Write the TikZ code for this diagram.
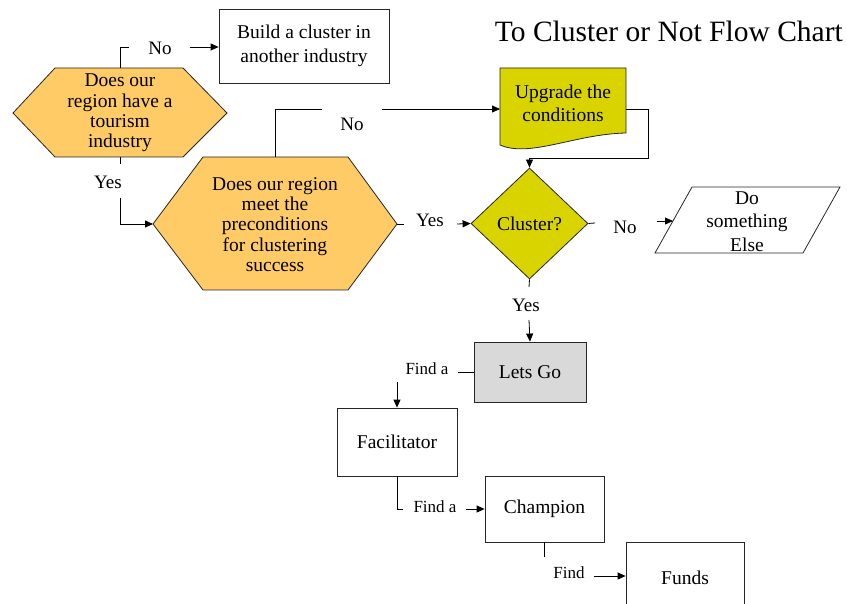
\documentclass[tikz,border=0pt]{standalone}
\usepackage{fontspec}
\setmainfont{Liberation Serif}
\usetikzlibrary{shapes.geometric,arrows.meta}
\definecolor{hexfill}{HTML}{FECB66}
\definecolor{olive}{HTML}{D9D400}
\definecolor{greyfill}{HTML}{D9D9D9}
\tikzset{
  ln/.style={line width=0.8pt, draw=black},
  arr/.style={ln, -{Triangle[length=8pt,width=7pt]}},
  shp/.style={line width=0.8pt, draw=black!85},
  boxnode/.style={shp, rectangle, inner sep=0pt, align=center, font=\fontsize{19.5}{24}\selectfont},
  txt/.style={inner sep=0pt, align=center, font=\fontsize{19.5}{20.3}\selectfont},
  lbl/.style={inner sep=0pt, font=\fontsize{19}{20}\selectfont},
  slbl/.style={inner sep=0pt, font=\fontsize{17}{18}\selectfont},
}
\begin{document}
\begin{tikzpicture}[x=1pt,y=-1pt]
\useasboundingbox (0,0) rectangle (847,604);
\clip (0,0) rectangle (847,604);

% title
\node[anchor=base east, inner sep=0pt, font=\fontsize{29.5}{30}\selectfont] (title) at (843,42) {To Cluster or Not Flow Chart};

% hexagon 1
\path[shp, fill=hexfill] (13,113) -- (55,68) -- (183,68) -- (227,113) -- (183,157) -- (55,157) -- cycle;
\node[txt] (h1) at (120,113) {Does our\\region have a\\tourism\\industry};
\coordinate (h1top) at (120,68);
\coordinate (h1bot) at (120,157);

% hexagon 2
\path[shp, fill=hexfill] (153,224) -- (203,157) -- (348,157) -- (397,224) -- (348,290) -- (203,290) -- cycle;
\node[txt] (h2) at (275,224.5) {Does our region\\meet the\\preconditions\\for clustering\\success};
\coordinate (h2left) at (153,224);
\coordinate (h2top) at (275,157);
\coordinate (h2right) at (397,224);

% build box
\node[boxnode, minimum width=170pt, minimum height=74pt] (build) at (304,46) {Build a cluster in\\another industry};

% upgrade (document shape)
\path[shp, fill=olive] (500,68) -- (626,68) -- (626,133) .. controls (575,134) and (530,158) .. (500,145) -- cycle;
\node[txt, font=\fontsize{19.5}{23}\selectfont] (up) at (563,103.5) {Upgrade the\\conditions};
\coordinate (upleft) at (500,109);
\coordinate (upright) at (626,109);

% diamond
\node[shp, diamond, fill=olive, minimum width=117pt, minimum height=111pt, inner sep=0pt, font=\fontsize{19.5}{20}\selectfont] (cl) at (529.5,223.5) {Cluster?};

% parallelogram
\path[shp] (692,187) -- (840,187) -- (803,253) -- (655,253) -- cycle;
\node[txt, font=\fontsize{19.5}{23.5}\selectfont] (else) at (747,221.5) {Do\\something\\Else};
\coordinate (elseleft) at (673,221);

% boxes
\node[boxnode, fill=greyfill, minimum width=112pt, minimum height=60pt] (go) at (530,372) {Lets Go};
\node[boxnode, minimum width=120pt, minimum height=68pt] (fac) at (397,442) {Facilitator};
\node[boxnode, minimum width=119pt, minimum height=66pt] (champ) at (544.5,509) {Champion};
\node[boxnode, minimum width=118pt, minimum height=72pt] (funds) at (685,578) {Funds};

% labels
\node[lbl] (no1) at (160,48) {No};
\node[lbl] (yes1) at (108,182) {Yes};
\node[lbl] (no2) at (352,124) {No};
\node[lbl] (yes2) at (430,220) {Yes};
\node[lbl] (no3) at (625,227) {No};
\node[lbl] (yes3) at (526,305) {Yes};
\node[slbl] (find1) at (427,369) {Find a};
\node[slbl] (find2) at (435,507) {Find a};
\node[slbl] (find3) at (569,573) {Find};

% connector break points
\coordinate (a1) at (129,47);
\coordinate (a2) at (190,47);
\coordinate (b1) at (120,164);
\coordinate (b2) at (120,198);
\coordinate (c1) at (322,109);
\coordinate (c2) at (382,109);
\coordinate (d1) at (648,158);
\coordinate (e1) at (404,224);
\coordinate (e2) at (457,224);
\coordinate (f1) at (595,223);
\coordinate (f2) at (657,221);
\coordinate (g1) at (529,287);
\coordinate (g2) at (529,320);
\coordinate (i1) at (458,372);
\coordinate (i2) at (397,382);
\coordinate (j1) at (403,509);
\coordinate (j2) at (466,509);
\coordinate (k1) at (544,557);
\coordinate (k2) at (594,576);

% connectors
\draw[ln] (h1top) |- (a1);
\draw[arr] (a2) -- (build.west |- a2);
\draw[ln] (h1bot) -- (b1);
\draw[arr] (b2) |- (h2left);
\draw[ln] (h2top) |- (c1);
\draw[arr] (c2) -- (upleft);
\draw[arr] (upright) -| (d1) -| (cl.north);
\draw[ln] (h2right) -- (e1);
\draw[arr] (e2) -- (cl.west);
\draw[ln] (cl.east) -- (f1);
\draw[arr] (f2) -- (elseleft);
\draw[ln] (cl.south) -- (g1);
\draw[arr] (g2) -- (go.north);
\draw[ln] (go.west) -- (i1);
\draw[arr] (i2) -- (fac.north);
\draw[ln] (fac.south) |- (j1);
\draw[arr] (j2) -- (champ.west);
\draw[ln] (champ.south -| k1) -- (k1);
\draw[arr] (k2) -- (funds.west |- k2);
\end{tikzpicture}
\end{document}
